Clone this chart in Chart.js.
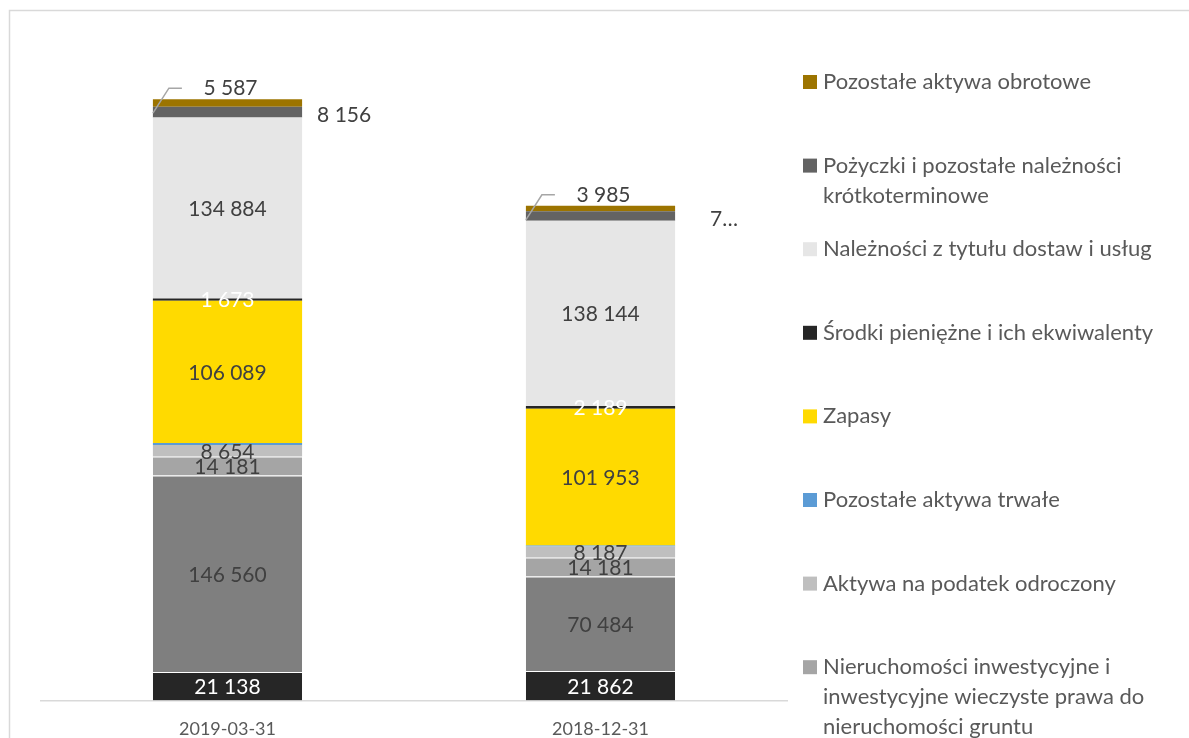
<!DOCTYPE html>
<html>
<head>
<meta charset="utf-8">
<script src="https://cdn.jsdelivr.net/npm/chart.js@4.4.0/dist/chart.umd.min.js"></script>
<style>
  html, body { margin: 0; padding: 0; background: #fff; overflow: hidden; }
  #wrap { width: 1189px; height: 780px; }
</style>
</head>
<body>
<div id="wrap"><canvas id="chart" width="1189" height="780"></canvas></div>
<script>
// data, bottom of the stack first
const categories = ["2019-03-31", "2018-12-31"];

const wartosciNiematerialne = [21138, 21862];
const rzeczoweAktywa = [146560, 70484];
const nieruchomosci = [14181, 14181];
const podatekOdroczony = [8654, 8187];
const pozostaleTrwale = [1500, 800];
const zapasy = [106089, 101953];
const srodkiPieniezne = [1673, 2189];
const naleznosciHandlowe = [134884, 138144];
const pozyczki = [8156, 7100];
const pozostaleObrotowe = [5587, 3985];

const seriesNames = [
  "Wartości niematerialne",
  "Rzeczowe aktywa trwałe",
  "Nieruchomości inwestycyjne i inwestycyjne wieczyste prawa do nieruchomości gruntu",
  "Aktywa na podatek odroczony",
  "Pozostałe aktywa trwałe",
  "Zapasy",
  "Środki pieniężne i ich ekwiwalenty",
  "Należności z tytułu dostaw i usług",
  "Pożyczki i pozostałe należności krótkoterminowe",
  "Pozostałe aktywa obrotowe"
];

const FONT = "Lato, 'Open Sans', sans-serif";
const TXT = "#404040";

function fmt(v) {
  return String(v).replace(/\B(?=(\d{3})+(?!\d))/g, " ");
}

// label style per series: where and in which colour
function ds(i, data, color, lab, sep) {
  return {
    label: seriesNames[i],
    data: data,
    backgroundColor: color,
    borderColor: "rgba(255,255,255,0.55)",
    borderWidth: sep ? { top: 1, left: 0, right: 0, bottom: 0 } : 0,
    borderSkipped: false,
    lab: lab
  };
}

const datasets = [
  ds(0, wartosciNiematerialne, "#262626", { pos: "in", color: "#fff" }, true),
  ds(1, rzeczoweAktywa, "#7f7f7f", { pos: "in", color: TXT }, true),
  ds(2, nieruchomosci, "#a5a5a5", { pos: "in", color: TXT }, true),
  ds(3, podatekOdroczony, "#bfbfbf", { pos: "in", color: TXT }, false),
  ds(4, pozostaleTrwale, "#5b9bd5", null, false),
  ds(5, zapasy, "#ffda00", { pos: "in", color: TXT }, false),
  ds(6, srodkiPieniezne, "#262626", { pos: "in", color: "#fff" }, false),
  ds(7, naleznosciHandlowe, "#e6e6e6", { pos: "in", color: TXT }, false),
  ds(8, pozyczki, "#636363", { pos: "right", color: TXT, cut: [false, true] }, false),
  ds(9, pozostaleObrotowe, "#9c7400", { pos: "above", color: TXT }, false)
];

// outer frame
const framePlugin = {
  id: "frame",
  beforeDraw(chart) {
    const ctx = chart.ctx;
    ctx.save();
    ctx.strokeStyle = "#d9d9d9";
    ctx.lineWidth = 1.5;
    ctx.strokeRect(9.5, 10.5, 1400, 1000);
    ctx.restore();
  }
};

// value labels
const labelPlugin = {
  id: "valueLabels",
  afterDatasetsDraw(chart) {
    const ctx = chart.ctx;
    ctx.save();
    ctx.font = "21px " + FONT;
    ctx.textBaseline = "middle";
    chart.data.datasets.forEach(function (d, di) {
      if (!d.lab) return;
      const meta = chart.getDatasetMeta(di);
      meta.data.forEach(function (bar, i) {
        let txt = fmt(d.data[i]);
        const top = Math.min(bar.y, bar.base);
        const bot = Math.max(bar.y, bar.base);
        const left = bar.x - bar.width / 2;
        const right = bar.x + bar.width / 2;
        ctx.fillStyle = d.lab.color;
        if (d.lab.pos === "in") {
          ctx.textAlign = "center";
          ctx.fillText(txt, bar.x, (top + bot) / 2 + 1);
        } else if (d.lab.pos === "right") {
          if (d.lab.cut && d.lab.cut[i]) txt = txt.charAt(0) + "…";
          ctx.textAlign = "left";
          ctx.fillText(txt, right + (i === 0 ? 15 : 35), (top + bot) / 2 + 3);
        } else if (d.lab.pos === "above") {
          const ly = top - 11;
          ctx.textAlign = "center";
          ctx.fillText(txt, bar.x + 3, ly);
          ctx.strokeStyle = "#a6a6a6";
          ctx.lineWidth = 1.5;
          ctx.beginPath();
          ctx.moveTo(left, top + 14);
          ctx.lineTo(left + 16, ly);
          ctx.lineTo(left + 29, ly);
          ctx.stroke();
        }
      });
    });
    ctx.restore();
  }
};

// legend on the right, top series first, wrapped text
const legendPlugin = {
  id: "sideLegend",
  afterDraw(chart) {
    const ctx = chart.ctx;
    const x0 = 803, tx = 823, y0 = 82, step = 83.6, lh = 30, maxW = 345;
    ctx.save();
    ctx.font = "22px " + FONT;
    ctx.textBaseline = "middle";
    ctx.textAlign = "left";
    const list = chart.data.datasets.slice().reverse();
    list.forEach(function (d, k) {
      const y = y0 + k * step;
      ctx.fillStyle = d.backgroundColor;
      ctx.fillRect(x0, y - 7, 14, 14);
      ctx.fillStyle = "#595959";
      const words = d.label.split(" ");
      let line = "", ly = y;
      words.forEach(function (w) {
        const test = line ? line + " " + w : w;
        if (line && ctx.measureText(test).width > maxW) {
          ctx.fillText(line, tx, ly);
          line = w;
          ly += lh;
        } else {
          line = test;
        }
      });
      ctx.fillText(line, tx, ly);
    });
    ctx.restore();
  }
};

const ctx = document.getElementById("chart").getContext("2d");
const myChart = new Chart(ctx, {
  type: "bar",
  data: {
    labels: categories,
    datasets: datasets
  },
  options: {
    responsive: false,
    animation: false,
    layout: {
      padding: { left: 41, right: 402, top: 30, bottom: 22 }
    },
    plugins: {
      legend: { display: false },
      tooltip: { enabled: false }
    },
    datasets: {
      bar: { barPercentage: 0.4, categoryPercentage: 1 }
    },
    scales: {
      x: {
        stacked: true,
        grid: { display: false, drawTicks: false },
        border: { display: true, color: "#d9d9d9", width: 1.5 },
        ticks: {
          color: "#595959",
          font: { family: FONT, size: 18 },
          padding: 18
        }
      },
      y: {
        stacked: true,
        display: false,
        min: 0,
        max: 500000
      }
    }
  },
  plugins: [framePlugin, labelPlugin, legendPlugin]
});
</script>
</body>
</html>
